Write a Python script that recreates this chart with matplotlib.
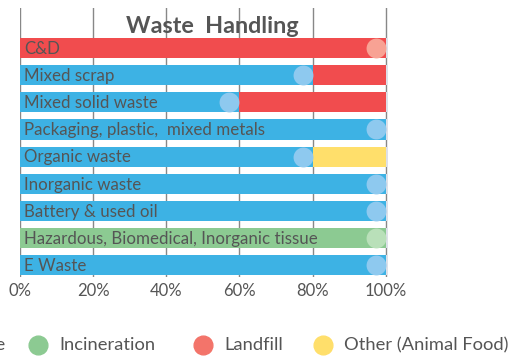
import matplotlib.pyplot as plt
from matplotlib.lines import Line2D
import numpy as np

plt.rcParams['font.family'] = ['Lato', 'DejaVu Sans']

categories = ["C&D", "Mixed scrap", "Mixed solid waste", "Packaging, plastic,  mixed metals",
              "Organic waste", "Inorganic waste", "Battery & used oil",
              "Hazardous, Biomedical, Inorganic tissue", "E Waste"]
methods = ["Recycle", "Incineration", "Landfill", "Other (Animal Food)"]

recycle = [0, 80, 60, 100, 80, 100, 100, 0, 100]
incineration = [0, 0, 0, 0, 0, 0, 0, 100, 0]
landfill = [100, 20, 40, 0, 0, 0, 0, 0, 0]
other = [0, 0, 0, 0, 20, 0, 0, 0, 0]

colors = ["#3db2e4", "#8cca92", "#f14c4e", "#ffdf6b"]
dot_colors = ["#8ec9ef", "#b9e0b9", "#f8a294", "#ffeaa0"]
legend_colors = ["#3db2e4", "#8cca92", "#f3746a", "#ffdf6b"]
txt = "#555555"

W, H = 515, 356
fig = plt.figure(figsize=(W / 100, H / 100), dpi=100)
ax = fig.add_axes([20 / W, 1 - 277 / H, 368 / W, 269 / H])

y = np.arange(len(categories))
h = 0.74
series = [recycle, incineration, landfill, other]

ax.barh(y, 100.6, height=h, color="#dde0e8", zorder=2)
left = np.zeros(len(categories))
for vals, c in zip(series, colors):
    ax.barh(y, vals, left=left, height=h, color=c, zorder=3)
    left += np.array(vals)

# light dot at the end of the first segment of each bar
r = 2.75
for i in range(len(categories)):
    for vals, dc in zip(series, dot_colors):
        if vals[i] > 0:
            ax.scatter(vals[i] - r, y[i], s=205, color=dc, zorder=4, linewidths=0)
            break

for i, name in enumerate(categories):
    ax.text(1.2, y[i] + 0.03, name, va="center", ha="left", fontsize=12.2, color=txt, zorder=5)

ax.set_xlim(0, 100.6)
ax.set_ylim(len(categories) - 1 + 0.44, -1.48)
ax.set_xticks([0, 20, 40, 60, 80, 100])
ax.set_xticklabels(["0%", "20%", "40%", "60%", "80%", "100%"], fontsize=12, color=txt)
ax.set_yticks([])
ax.tick_params(axis="x", length=0, pad=4)
ax.grid(axis="x", color="#888888", linewidth=1, zorder=1)
ax.set_axisbelow(True)
for s in ax.spines.values():
    s.set_visible(False)

ax.text(52.5, -0.8, "Waste  Handling", ha="center", va="center", fontsize=16.8,
        fontweight="bold", color=txt, zorder=1)

# legend row along the bottom (first entry runs off the left edge, as in the original)
leg_x = [-78, 38, 203, 323]
leg_y = 1 - 345 / H
for xm, name, c in zip(leg_x, methods, legend_colors):
    fig.add_artist(Line2D([xm / W], [leg_y], marker="o", markersize=13.5, color=c,
                          linestyle="", transform=fig.transFigure))
    fig.text((xm + 21) / W, leg_y, name, ha="left", va="center", fontsize=13.2, color=txt)

fig.savefig("out.png", dpi=100)
